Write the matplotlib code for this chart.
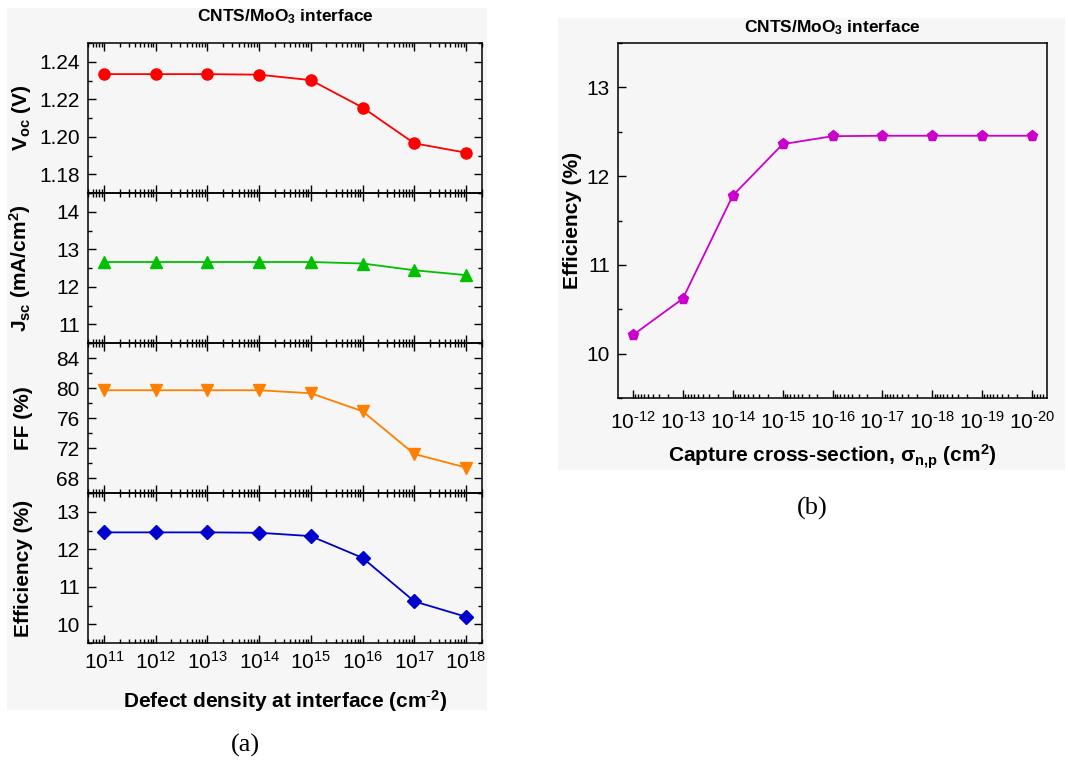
import matplotlib
matplotlib.use("Agg")
import matplotlib.pyplot as plt
from matplotlib.patches import Rectangle
from matplotlib.ticker import (FixedLocator, FuncFormatter, LogLocator,
                               MultipleLocator, NullFormatter)
import numpy as np

plt.rcParams["font.family"] = ["Liberation Sans", "DejaVu Sans"]
plt.rcParams["mathtext.fontset"] = "custom"
plt.rcParams["mathtext.rm"] = "Liberation Sans"
plt.rcParams["mathtext.bf"] = "Liberation Sans:bold"
plt.rcParams["mathtext.default"] = "regular"
plt.rcParams["axes.unicode_minus"] = False

# (a) defect density at CNTS/MoO3 interface
defect_density = [1e11, 1e12, 1e13, 1e14, 1e15, 1e16, 1e17, 1e18]
voc = [1.2334, 1.2334, 1.2334, 1.2331, 1.2302, 1.2156, 1.1965, 1.1915]
jsc = [12.66, 12.66, 12.66, 12.66, 12.66, 12.62, 12.44, 12.31]
ff = [79.7, 79.7, 79.7, 79.7, 79.3, 76.9, 71.2, 69.4]
eff_a = [12.45, 12.45, 12.45, 12.44, 12.35, 11.77, 10.61, 10.20]

# (b) capture cross-section
capture_xs = [1e-12, 1e-13, 1e-14, 1e-15, 1e-16, 1e-17, 1e-18, 1e-19, 1e-20]
eff_b = [10.21, 10.62, 11.78, 12.36, 12.45, 12.455, 12.455, 12.455, 12.455]

W, H = 1068, 767
fig = plt.figure(figsize=(W / 100, H / 100), dpi=100)
fig.patch.set_facecolor("white")

bg = "#f6f6f6"
for x0, y0, x1, y1 in [(7, 8, 487, 710), (558, 18, 1065, 470)]:
    fig.patches.append(Rectangle((x0 / W, 1 - y1 / H), (x1 - x0) / W, (y1 - y0) / H,
                                 transform=fig.transFigure, facecolor=bg,
                                 edgecolor="none", zorder=-1))


def px_axes(l, t, r, b):
    return fig.add_axes([l / W, 1 - b / H, (r - l) / W, (b - t) / H])


def pow10(v, pos):
    # hyphen instead of minus sign, like the original figure
    e = int(round(np.log10(v)))
    s = str(abs(e))
    if e < 0:
        s = r"\text{-}" + s
    return "10$^{" + s + "}$"


def style(ax, xticks, allsides=True):
    ax.set_facecolor("none")
    for s in ax.spines.values():
        s.set_linewidth(1.1)
    ax.tick_params(which="both", direction="in", labelsize=15,
                   top=allsides, right=allsides, width=1.0)
    ax.tick_params(which="major", length=5.5)
    ax.tick_params(which="minor", length=3)
    ax.tick_params(axis="y", pad=6)
    ax.set_xscale("log")
    ax.xaxis.set_major_locator(FixedLocator(xticks))
    ax.xaxis.set_minor_locator(LogLocator(base=10, subs=range(2, 10), numticks=30))
    ax.xaxis.set_major_formatter(FuncFormatter(pow10))
    ax.xaxis.set_minor_formatter(NullFormatter())


label_kw = dict(fontsize=15, fontweight="bold")

# left stacked panel
panels = [
    (voc, "#ff0000", "o", 8, (1.17, 1.25), 0.02, 0.01, "V$_{oc}$ (V)"),
    (jsc, "#00c000", "^", 8, (10.5, 14.5), 1, 0.5, "J$_{sc}$ (mA/cm$^{2}$)"),
    (ff, "#ff8000", "v", 8, (66, 86), 4, 2, "FF (%)"),
    (eff_a, "#0000cc", "D", 7, (9.5, 13.5), 1, 0.5, "Efficiency (%)"),
]
axes_a = []
for i, (vals, col, mk, ms, ylim, major, minor, lab) in enumerate(panels):
    ax = px_axes(88, 43 + 150 * i, 482, 193 + 150 * i)
    style(ax, defect_density)
    ax.plot(defect_density, vals, color=col, marker=mk, markersize=ms, linewidth=1.3)
    ax.set_xlim(10 ** 10.69, 10 ** 18.31)
    ax.set_ylim(*ylim)
    ax.yaxis.set_major_locator(MultipleLocator(major))
    ax.yaxis.set_minor_locator(MultipleLocator(minor))
    if mk == "o":
        ax.yaxis.set_major_formatter(plt.FormatStrFormatter("%.2f"))
    ax.set_ylabel(lab, **label_kw)
    ax.yaxis.set_label_coords(-0.14, 0.5)
    if i < 3:
        ax.tick_params(axis="x", labelbottom=False)
    axes_a.append(ax)

axes_a[-1].tick_params(axis="x", pad=6)
axes_a[-1].set_xlabel("Defect density at interface (cm$^{\\text{-}2}$)", **label_kw)
axes_a[-1].xaxis.set_label_coords(0.5, -0.30)

fig.text(285 / W, 1 - 17 / H, "CNTS/MoO$_{3}$ interface", ha="center", va="center",
         fontsize=12.5, fontweight="bold")

# right panel
axb = px_axes(618, 43, 1047, 398)
style(axb, capture_xs, allsides=False)
axb.plot(capture_xs, eff_b, color="#cc00cc", marker="p", markersize=8, linewidth=1.3)
axb.set_xlim(10 ** -11.7, 10 ** -20.3)
axb.set_ylim(9.5, 13.5)
axb.yaxis.set_major_locator(MultipleLocator(1))
axb.yaxis.set_minor_locator(MultipleLocator(0.5))
axb.tick_params(axis="x", pad=9)
axb.set_ylabel("Efficiency (%)", **label_kw)
axb.yaxis.set_label_coords(-0.084, 0.5)
axb.set_xlabel(r"Capture cross-section, $\sigma_{n{,}p}$ (cm$^{2}$)", **label_kw)
axb.xaxis.set_label_coords(0.5, -0.125)

fig.text(832 / W, 1 - 28 / H, "CNTS/MoO$_{3}$ interface", ha="center", va="center",
         fontsize=12.5, fontweight="bold")

fig.text(245 / W, 1 - 745 / H, "(a)", ha="center", va="center", fontsize=19,
         family="Liberation Serif")
fig.text(812 / W, 1 - 508 / H, "(b)", ha="center", va="center", fontsize=19,
         family="Liberation Serif")

fig.savefig("out.png", dpi=100, facecolor="white")
